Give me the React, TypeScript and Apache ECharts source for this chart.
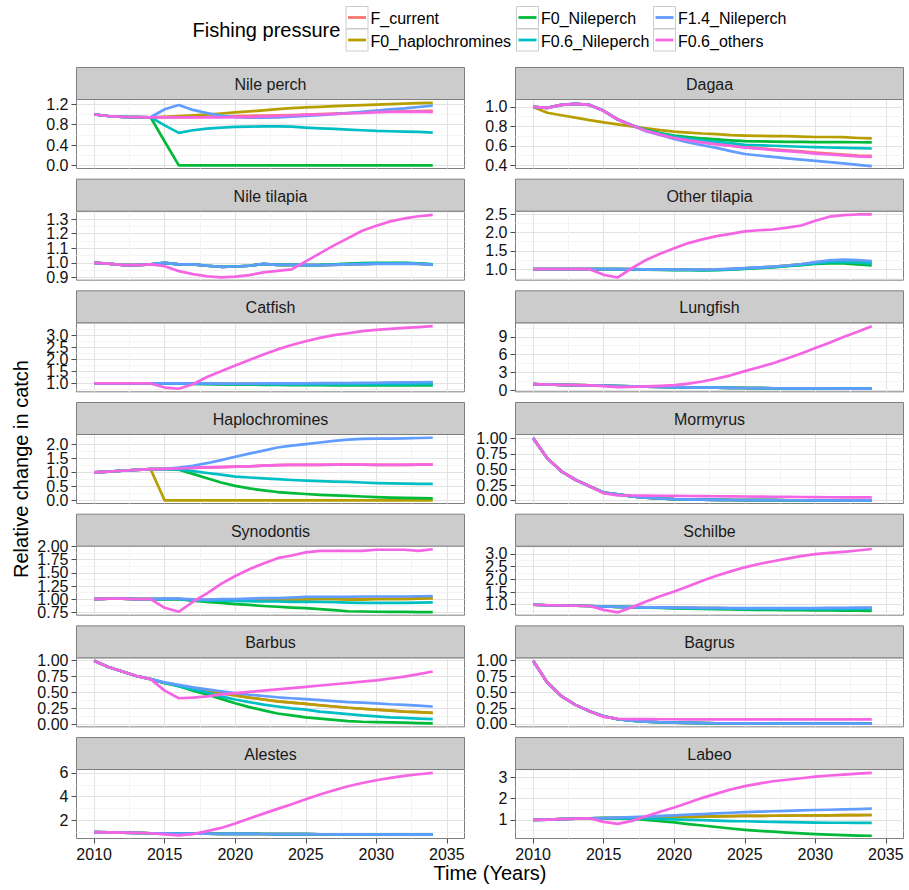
import React, { useEffect, useRef } from 'react';
import * as echarts from 'echarts';

const FONT = '"Liberation Sans", Arial, Helvetica, sans-serif';

// ---- shared axes ----
const years = [2010, 2011, 2012, 2013, 2014, 2015, 2016, 2017, 2018, 2019, 2020, 2021, 2022, 2023, 2024, 2025, 2026, 2027, 2028, 2029, 2030, 2031, 2032, 2033, 2034];
const xTicks = [2010, 2015, 2020, 2025, 2030, 2035];
const xLimits = [2008.75, 2036.25];

const scenarioNames = ['F_current', 'F0_haplochromines', 'F0_Nileperch', 'F0.6_Nileperch', 'F1.4_Nileperch', 'F0.6_others'];
const scenarioColors = ['#F8766D', '#B79F00', '#00BA38', '#00BFC4', '#619CFF', '#F564E3'];

// ---- Nile perch ----
const nilePerchCurrent = [1.0, 0.97, 0.955, 0.95, 0.945, 0.95, 0.95, 0.955, 0.96, 0.965, 0.97, 0.975, 0.98, 0.985, 0.99, 1.0, 1.01, 1.02, 1.03, 1.04, 1.05, 1.055, 1.06, 1.065, 1.07];
const nilePerchF0Hap = [1.0, 0.97, 0.955, 0.95, 0.945, 0.955, 0.97, 0.985, 1.0, 1.02, 1.04, 1.06, 1.08, 1.105, 1.125, 1.14, 1.15, 1.165, 1.175, 1.185, 1.195, 1.205, 1.215, 1.225, 1.23];
const nilePerchF0Nile = [1.0, 0.97, 0.955, 0.95, 0.945, 0.47, 0, 0, 0, 0, 0, 0, 0, 0, 0, 0, 0, 0, 0, 0, 0, 0, 0, 0, 0];
const nilePerchF06Nile = [1.0, 0.97, 0.955, 0.95, 0.945, 0.787, 0.639, 0.69, 0.723, 0.742, 0.755, 0.761, 0.768, 0.768, 0.761, 0.742, 0.729, 0.716, 0.703, 0.69, 0.677, 0.671, 0.665, 0.658, 0.645];
const nilePerchF14Nile = [1.0, 0.97, 0.955, 0.95, 0.945, 1.103, 1.187, 1.09, 1.026, 0.98, 0.948, 0.94, 0.94, 0.945, 0.96, 0.974, 0.987, 1.006, 1.026, 1.05, 1.077, 1.103, 1.12, 1.148, 1.174];
const nilePerchF06Others = [1.0, 0.97, 0.955, 0.95, 0.945, 0.945, 0.945, 0.945, 0.945, 0.945, 0.948, 0.95, 0.96, 0.97, 0.98, 0.994, 1.0, 1.01, 1.02, 1.03, 1.045, 1.05, 1.05, 1.055, 1.045];

// ---- Dagaa ----
const dagaaCurrent = [1.0, 0.99, 1.02, 1.03, 1.02, 0.96, 0.87, 0.81, 0.755, 0.715, 0.68, 0.655, 0.635, 0.617, 0.602, 0.588, 0.575, 0.562, 0.552, 0.542, 0.53, 0.52, 0.51, 0.5, 0.495];
const dagaaF0Hap = [1.0, 0.94, 0.914, 0.89, 0.863, 0.84, 0.82, 0.8, 0.78, 0.76, 0.746, 0.736, 0.726, 0.72, 0.71, 0.705, 0.702, 0.7, 0.699, 0.695, 0.69, 0.69, 0.688, 0.68, 0.675];
const dagaaF0Nile = [1.0, 0.99, 1.02, 1.03, 1.02, 0.96, 0.87, 0.81, 0.765, 0.73, 0.705, 0.69, 0.675, 0.665, 0.655, 0.648, 0.645, 0.642, 0.64, 0.64, 0.638, 0.638, 0.637, 0.636, 0.635];
const dagaaF06Nile = [1.0, 0.99, 1.02, 1.03, 1.02, 0.96, 0.87, 0.81, 0.76, 0.725, 0.695, 0.675, 0.655, 0.64, 0.628, 0.61, 0.605, 0.6, 0.595, 0.59, 0.586, 0.582, 0.578, 0.575, 0.572];
const dagaaF14Nile = [1.0, 0.99, 1.02, 1.03, 1.02, 0.96, 0.87, 0.81, 0.75, 0.71, 0.67, 0.635, 0.605, 0.578, 0.545, 0.515, 0.5, 0.485, 0.47, 0.458, 0.445, 0.432, 0.418, 0.404, 0.39];
const dagaaF06Others = [1.0, 0.99, 1.02, 1.03, 1.02, 0.96, 0.87, 0.81, 0.755, 0.715, 0.68, 0.655, 0.635, 0.615, 0.6, 0.58, 0.57, 0.555, 0.545, 0.535, 0.52, 0.51, 0.5, 0.49, 0.485];

// ---- Nile tilapia ----
const nileTilapiaCurrent = [1.0, 0.995, 0.985, 0.985, 0.99, 1.0, 0.99, 0.99, 0.98, 0.973, 0.975, 0.98, 0.992, 0.986, 0.986, 0.984, 0.985, 0.987, 0.99, 0.992, 0.995, 0.995, 0.997, 0.994, 0.988];
const nileTilapiaF0Hap = [1.0, 0.995, 0.985, 0.985, 0.99, 1.0, 0.99, 0.99, 0.98, 0.973, 0.975, 0.98, 0.992, 0.986, 0.985, 0.984, 0.984, 0.986, 0.99, 0.991, 0.994, 0.994, 0.996, 0.993, 0.987];
const nileTilapiaF0Nile = [1.0, 0.995, 0.985, 0.985, 0.99, 1.0, 0.99, 0.99, 0.98, 0.973, 0.975, 0.98, 0.993, 0.986, 0.986, 0.985, 0.986, 0.99, 0.995, 0.998, 1.0, 1.0, 1.0, 0.996, 0.99];
const nileTilapiaF06Nile = [1.0, 0.995, 0.985, 0.985, 0.99, 1.0, 0.99, 0.99, 0.98, 0.973, 0.975, 0.98, 0.992, 0.986, 0.986, 0.985, 0.985, 0.988, 0.992, 0.995, 0.997, 0.997, 0.998, 0.995, 0.989];
const nileTilapiaF14Nile = [1.0, 0.995, 0.985, 0.985, 0.99, 1.0, 0.99, 0.99, 0.98, 0.973, 0.975, 0.98, 0.993, 0.986, 0.986, 0.984, 0.984, 0.986, 0.989, 0.99, 0.993, 0.993, 0.995, 0.993, 0.986];
const nileTilapiaF06Others = [1.0, 0.995, 0.985, 0.985, 0.99, 0.977, 0.943, 0.923, 0.908, 0.9, 0.905, 0.916, 0.935, 0.945, 0.955, 1.01, 1.065, 1.12, 1.17, 1.22, 1.255, 1.285, 1.305, 1.32, 1.33];

// ---- Other tilapia ----
const otherTilapiaCurrent = [1, 1, 1, 1, 1, 1.0, 1.0, 1.0, 0.99, 0.988, 0.985, 0.984, 0.984, 0.99, 1.004, 1.024, 1.044, 1.064, 1.094, 1.128, 1.17, 1.215, 1.235, 1.215, 1.185];
const otherTilapiaF0Hap = [1, 1, 1, 1, 1, 1.0, 1.0, 1.0, 0.99, 0.988, 0.985, 0.985, 0.985, 0.99, 1.005, 1.025, 1.045, 1.065, 1.095, 1.13, 1.175, 1.22, 1.24, 1.22, 1.19];
const otherTilapiaF0Nile = [1, 1, 1, 1, 1, 1.0, 1.0, 0.99, 0.985, 0.98, 0.975, 0.97, 0.965, 0.97, 0.985, 1.005, 1.03, 1.05, 1.08, 1.11, 1.14, 1.16, 1.16, 1.13, 1.1];
const otherTilapiaF06Nile = [1, 1, 1, 1, 1, 1.0, 1.0, 0.995, 0.99, 0.985, 0.98, 0.978, 0.975, 0.98, 0.995, 1.015, 1.04, 1.06, 1.09, 1.12, 1.16, 1.19, 1.2, 1.18, 1.15];
const otherTilapiaF14Nile = [1, 1, 1, 1, 1, 1.0, 1.0, 1.0, 0.995, 0.99, 0.99, 0.99, 0.99, 0.995, 1.01, 1.03, 1.05, 1.07, 1.1, 1.14, 1.19, 1.24, 1.26, 1.25, 1.22];
const otherTilapiaF06Others = [1, 1, 1, 1, 1, 0.846, 0.774, 1.027, 1.25, 1.42, 1.57, 1.71, 1.81, 1.9, 1.96, 2.03, 2.06, 2.08, 2.13, 2.19, 2.32, 2.43, 2.47, 2.49, 2.49];

// ---- Catfish ----
const catfishCurrent = [1, 1, 1, 1, 1, 1.0, 1.0, 0.995, 0.99, 0.985, 0.985, 0.985, 0.985, 0.985, 0.985, 0.99, 0.99, 0.995, 1.0, 1.0, 1.005, 1.01, 1.015, 1.02, 1.025];
const catfishF0Hap = [1, 1, 1, 1, 1, 1.0, 1.0, 0.995, 0.99, 0.985, 0.985, 0.985, 0.985, 0.985, 0.985, 0.99, 0.99, 0.995, 1.0, 1.0, 1.005, 1.01, 1.015, 1.02, 1.025];
const catfishF0Nile = [1, 1, 1, 1, 1, 1.0, 0.99, 0.98, 0.97, 0.96, 0.955, 0.95, 0.945, 0.94, 0.935, 0.93, 0.925, 0.92, 0.92, 0.915, 0.915, 0.915, 0.915, 0.915, 0.915];
const catfishF06Nile = [1, 1, 1, 1, 1, 1.0, 0.995, 0.99, 0.985, 0.98, 0.975, 0.97, 0.968, 0.965, 0.963, 0.96, 0.958, 0.957, 0.957, 0.958, 0.96, 0.962, 0.965, 0.968, 0.97];
const catfishF14Nile = [1, 1, 1, 1, 1, 1.0, 1.0, 1.0, 1.0, 0.995, 0.995, 0.995, 1.0, 1.0, 1.0, 1.005, 1.01, 1.015, 1.02, 1.025, 1.03, 1.04, 1.045, 1.05, 1.06];
const catfishF06Others = [1, 1, 1, 1, 1, 0.83, 0.78, 0.97, 1.27, 1.51, 1.74, 1.97, 2.2, 2.41, 2.59, 2.75, 2.89, 3.0, 3.08, 3.17, 3.22, 3.26, 3.3, 3.33, 3.37];

// ---- Lungfish ----
const lungfishCurrent = [1.0, 0.95, 0.9, 0.85, 0.8, 0.75, 0.7, 0.65, 0.6, 0.55, 0.5, 0.47, 0.44, 0.41, 0.38, 0.36, 0.34, 0.32, 0.3, 0.29, 0.28, 0.27, 0.26, 0.25, 0.24];
const lungfishF06Others = [1.0, 0.95, 0.9, 0.85, 0.8, 0.68, 0.5, 0.56, 0.62, 0.73, 0.85, 1.1, 1.45, 1.95, 2.5, 3.2, 3.85, 4.55, 5.35, 6.2, 7.1, 8.0, 8.95, 9.85, 10.8];

// ---- Haplochromines ----
const haploF0Hap = [1.0, 1.03, 1.06, 1.09, 1.12, 0, 0, 0, 0, 0, 0, 0, 0, 0, 0, 0, 0, 0, 0, 0, 0, 0, 0, 0, 0];
const haploF0Nile = [1.0, 1.03, 1.06, 1.09, 1.12, 1.12, 1.1, 0.95, 0.79, 0.64, 0.52, 0.43, 0.36, 0.3, 0.26, 0.23, 0.2, 0.18, 0.16, 0.14, 0.12, 0.1, 0.09, 0.08, 0.07];
const haploF06Nile = [1.0, 1.03, 1.06, 1.09, 1.12, 1.12, 1.11, 1.05, 0.98, 0.92, 0.85, 0.82, 0.79, 0.76, 0.73, 0.71, 0.69, 0.67, 0.66, 0.64, 0.62, 0.61, 0.6, 0.595, 0.59];
const haploF14Nile = [1.0, 1.03, 1.06, 1.09, 1.12, 1.12, 1.17, 1.24, 1.33, 1.44, 1.56, 1.67, 1.78, 1.89, 1.96, 2.01, 2.07, 2.13, 2.17, 2.2, 2.21, 2.21, 2.22, 2.23, 2.24];
const haploF06Others = [1.0, 1.03, 1.06, 1.09, 1.12, 1.13, 1.14, 1.16, 1.18, 1.19, 1.21, 1.22, 1.24, 1.26, 1.27, 1.27, 1.27, 1.28, 1.28, 1.28, 1.27, 1.27, 1.27, 1.28, 1.28];

// ---- Mormyrus ----
const mormyrusCurrent = [1.0, 0.68, 0.47, 0.335, 0.23, 0.13, 0.1, 0.07, 0.05, 0.035, 0.025, 0.02, 0.016, 0.013, 0.011, 0.01, 0.009, 0.008, 0.007, 0.007, 0.006, 0.006, 0.005, 0.005, 0.005];
const mormyrusF06Others = [1.0, 0.68, 0.47, 0.335, 0.23, 0.12, 0.085, 0.083, 0.081, 0.079, 0.077, 0.075, 0.073, 0.071, 0.069, 0.067, 0.065, 0.063, 0.061, 0.059, 0.057, 0.055, 0.054, 0.053, 0.052];

// ---- Synodontis ----
const synodontisCurrent = [1.0, 1.01, 1.01, 1.0, 1.0, 1.0, 1.0, 0.985, 0.985, 0.99, 0.99, 0.99, 0.995, 1.0, 1.0, 1.005, 1.01, 1.01, 1.005, 1.005, 1.01, 1.01, 1.01, 1.015, 1.02];
const synodontisF0Hap = [1.0, 1.01, 1.01, 1.0, 1.0, 1.0, 1.0, 0.98, 0.98, 0.98, 0.98, 0.98, 0.98, 0.985, 0.99, 0.99, 1.0, 1.0, 0.99, 0.99, 1.0, 1.0, 1.0, 1.01, 1.02];
const synodontisF0Nile = [1.0, 1.01, 1.01, 1.0, 1.0, 1.0, 1.0, 0.97, 0.95, 0.93, 0.905, 0.89, 0.87, 0.855, 0.84, 0.83, 0.81, 0.79, 0.77, 0.765, 0.76, 0.757, 0.756, 0.755, 0.755];
const synodontisF06Nile = [1.0, 1.01, 1.01, 1.0, 1.0, 1.0, 1.0, 0.98, 0.97, 0.97, 0.96, 0.96, 0.955, 0.955, 0.95, 0.95, 0.95, 0.945, 0.935, 0.93, 0.93, 0.93, 0.93, 0.935, 0.94];
const synodontisF14Nile = [1.0, 1.01, 1.01, 1.0, 1.0, 1.01, 1.01, 0.995, 0.99, 1.0, 1.0, 1.01, 1.02, 1.02, 1.03, 1.045, 1.045, 1.045, 1.045, 1.05, 1.05, 1.05, 1.05, 1.055, 1.06];
const synodontisF06Others = [1.0, 1.01, 1.01, 1.0, 1.0, 0.835, 0.76, 0.95, 1.11, 1.29, 1.44, 1.57, 1.68, 1.78, 1.83, 1.89, 1.92, 1.92, 1.92, 1.92, 1.94, 1.94, 1.94, 1.92, 1.95];

// ---- Schilbe ----
const schilbeCurrent = [1.0, 0.98, 0.97, 0.96, 0.95, 0.93, 0.92, 0.908, 0.897, 0.89, 0.883, 0.876, 0.87, 0.865, 0.86, 0.856, 0.852, 0.85, 0.85, 0.85, 0.852, 0.855, 0.858, 0.862, 0.865];
const schilbeF0Nile = [1.0, 0.98, 0.97, 0.96, 0.95, 0.93, 0.92, 0.905, 0.89, 0.875, 0.86, 0.85, 0.84, 0.83, 0.82, 0.81, 0.8, 0.795, 0.79, 0.785, 0.78, 0.775, 0.77, 0.765, 0.76];
const schilbeF06Nile = [1.0, 0.98, 0.97, 0.96, 0.95, 0.93, 0.92, 0.907, 0.895, 0.885, 0.875, 0.868, 0.86, 0.852, 0.845, 0.84, 0.835, 0.832, 0.83, 0.83, 0.83, 0.83, 0.83, 0.832, 0.835];
const schilbeF14Nile = [1.0, 0.98, 0.97, 0.96, 0.95, 0.93, 0.92, 0.91, 0.9, 0.895, 0.89, 0.885, 0.88, 0.875, 0.87, 0.87, 0.865, 0.865, 0.87, 0.87, 0.87, 0.875, 0.88, 0.885, 0.89];
const schilbeF06Others = [1.0, 0.98, 0.97, 0.96, 0.95, 0.8, 0.7, 0.9, 1.13, 1.33, 1.52, 1.73, 1.94, 2.14, 2.31, 2.47, 2.6, 2.71, 2.81, 2.91, 2.99, 3.04, 3.08, 3.13, 3.19];

// ---- Barbus ----
const barbusF0Hap = [1.0, 0.9, 0.83, 0.76, 0.71, 0.65, 0.61, 0.57, 0.53, 0.49, 0.455, 0.42, 0.39, 0.36, 0.34, 0.32, 0.3, 0.28, 0.26, 0.245, 0.23, 0.215, 0.2, 0.19, 0.18];
const barbusF0Nile = [1.0, 0.9, 0.83, 0.76, 0.71, 0.65, 0.6, 0.53, 0.47, 0.4, 0.33, 0.27, 0.22, 0.17, 0.14, 0.11, 0.09, 0.07, 0.05, 0.04, 0.035, 0.03, 0.025, 0.02, 0.015];
const barbusF06Nile = [1.0, 0.9, 0.83, 0.76, 0.71, 0.65, 0.6, 0.55, 0.5, 0.44, 0.39, 0.35, 0.31, 0.28, 0.25, 0.23, 0.2, 0.18, 0.16, 0.14, 0.125, 0.11, 0.1, 0.09, 0.08];
const barbusF14Nile = [1.0, 0.9, 0.83, 0.76, 0.71, 0.66, 0.62, 0.58, 0.55, 0.52, 0.49, 0.465, 0.445, 0.425, 0.41, 0.395, 0.38, 0.365, 0.35, 0.34, 0.33, 0.315, 0.305, 0.295, 0.28];
const barbusF06Others = [1.0, 0.9, 0.83, 0.76, 0.71, 0.53, 0.41, 0.42, 0.44, 0.47, 0.49, 0.51, 0.53, 0.55, 0.57, 0.59, 0.61, 0.63, 0.65, 0.67, 0.69, 0.72, 0.75, 0.79, 0.83];

// ---- Bagrus ----
const bagrusCurrent = [1.0, 0.654, 0.44, 0.3, 0.2, 0.12, 0.075, 0.05, 0.035, 0.025, 0.018, 0.014, 0.011, 0.009, 0.008, 0.007, 0.006, 0.005, 0.005, 0.004, 0.004, 0.004, 0.003, 0.003, 0.003];
const bagrusF06Others = [1.0, 0.654, 0.44, 0.3, 0.2, 0.11, 0.08, 0.075, 0.073, 0.072, 0.072, 0.071, 0.071, 0.071, 0.07, 0.07, 0.07, 0.07, 0.07, 0.07, 0.07, 0.07, 0.07, 0.07, 0.07];

// ---- Alestes ----
const alestesCurrent = [1.0, 0.97, 0.95, 0.93, 0.9, 0.88, 0.87, 0.86, 0.855, 0.85, 0.845, 0.84, 0.835, 0.83, 0.825, 0.82, 0.815, 0.81, 0.805, 0.8, 0.795, 0.79, 0.785, 0.78, 0.775];
const alestesF06Others = [1.0, 0.97, 0.95, 0.93, 0.9, 0.8, 0.72, 0.83, 1.08, 1.35, 1.72, 2.14, 2.56, 2.96, 3.35, 3.77, 4.17, 4.54, 4.87, 5.15, 5.38, 5.58, 5.75, 5.89, 6.0];

// ---- Labeo ----
const labeoF0Hap = [1.0, 1.01, 1.03, 1.05, 1.07, 1.08, 1.09, 1.1, 1.11, 1.12, 1.13, 1.14, 1.15, 1.16, 1.17, 1.18, 1.185, 1.19, 1.195, 1.2, 1.205, 1.21, 1.215, 1.22, 1.225];
const labeoF0Nile = [1.0, 1.01, 1.03, 1.05, 1.07, 1.08, 1.07, 1.05, 1.0, 0.94, 0.88, 0.8, 0.73, 0.66, 0.59, 0.53, 0.48, 0.44, 0.4, 0.36, 0.33, 0.3, 0.28, 0.26, 0.25];
const labeoF06Nile = [1.0, 1.01, 1.03, 1.05, 1.07, 1.08, 1.08, 1.07, 1.06, 1.04, 1.02, 1.0, 0.98, 0.96, 0.94, 0.93, 0.91, 0.9, 0.89, 0.88, 0.87, 0.86, 0.86, 0.85, 0.85];
const labeoF14Nile = [1.0, 1.01, 1.03, 1.05, 1.07, 1.08, 1.1, 1.12, 1.15, 1.18, 1.21, 1.24, 1.27, 1.3, 1.33, 1.36, 1.38, 1.4, 1.42, 1.44, 1.46, 1.47, 1.49, 1.5, 1.52];
const labeoF06Others = [1.0, 1.01, 1.03, 1.05, 1.07, 0.9, 0.81, 0.95, 1.17, 1.38, 1.58, 1.8, 2.03, 2.23, 2.42, 2.58, 2.7, 2.81, 2.88, 2.95, 3.03, 3.08, 3.12, 3.17, 3.2];

// ---- y axis breaks and limits per species ----
const ticksNilePerch = [0, 0.4, 0.8, 1.2];
const ticksDagaa = [0.4, 0.6, 0.8, 1.0];
const ticksNileTilapia = [0.9, 1.0, 1.1, 1.2, 1.3];
const ticksOtherTilapia = [1.0, 1.5, 2.0, 2.5];
const ticksCatfish = [1.0, 1.5, 2.0, 2.5, 3.0];
const ticksLungfish = [0, 3, 6, 9];
const ticksHaplo = [0, 0.5, 1.0, 1.5, 2.0];
const ticksQuarter = [0, 0.25, 0.5, 0.75, 1.0];
const ticksSynodontis = [0.75, 1.0, 1.25, 1.5, 1.75, 2.0];
const ticksSchilbe = [1.0, 1.5, 2.0, 2.5, 3.0];
const ticksAlestes = [2, 4, 6];
const ticksLabeo = [1, 2, 3];

const limitsNilePerch = [-0.062, 1.295];
const limitsDagaa = [0.366, 1.076];
const limitsNileTilapia = [0.881, 1.355];
const limitsOtherTilapia = [0.7, 2.58];
const limitsCatfish = [0.653, 3.51];
const limitsLungfish = [-0.29, 11.36];
const limitsHaplo = [-0.11, 2.355];
const limitsMormyrus = [-0.045, 1.058];
const limitsSynodontis = [0.695, 2.008];
const limitsSchilbe = [0.59, 3.3];
const limitsBarbus = [-0.04, 1.045];
const limitsBagrus = [-0.048, 1.045];
const limitsAlestes = [0.453, 6.29];
const limitsLabeo = [0.12, 3.36];

type Facet = { name: string; lines: number[][]; ticks: number[]; limits: number[]; digits: number };

// facet_wrap order, filled row by row in two columns
const facets: Facet[] = [
  { name: 'Nile perch', lines: [nilePerchCurrent, nilePerchF0Hap, nilePerchF0Nile, nilePerchF06Nile, nilePerchF14Nile, nilePerchF06Others], ticks: ticksNilePerch, limits: limitsNilePerch, digits: 1 },
  { name: 'Dagaa', lines: [dagaaCurrent, dagaaF0Hap, dagaaF0Nile, dagaaF06Nile, dagaaF14Nile, dagaaF06Others], ticks: ticksDagaa, limits: limitsDagaa, digits: 1 },
  { name: 'Nile tilapia', lines: [nileTilapiaCurrent, nileTilapiaF0Hap, nileTilapiaF0Nile, nileTilapiaF06Nile, nileTilapiaF14Nile, nileTilapiaF06Others], ticks: ticksNileTilapia, limits: limitsNileTilapia, digits: 1 },
  { name: 'Other tilapia', lines: [otherTilapiaCurrent, otherTilapiaF0Hap, otherTilapiaF0Nile, otherTilapiaF06Nile, otherTilapiaF14Nile, otherTilapiaF06Others], ticks: ticksOtherTilapia, limits: limitsOtherTilapia, digits: 1 },
  { name: 'Catfish', lines: [catfishCurrent, catfishF0Hap, catfishF0Nile, catfishF06Nile, catfishF14Nile, catfishF06Others], ticks: ticksCatfish, limits: limitsCatfish, digits: 1 },
  { name: 'Lungfish', lines: [lungfishCurrent, lungfishCurrent, lungfishCurrent, lungfishCurrent, lungfishCurrent, lungfishF06Others], ticks: ticksLungfish, limits: limitsLungfish, digits: 0 },
  { name: 'Haplochromines', lines: [haploF06Others, haploF0Hap, haploF0Nile, haploF06Nile, haploF14Nile, haploF06Others], ticks: ticksHaplo, limits: limitsHaplo, digits: 1 },
  { name: 'Mormyrus', lines: [mormyrusCurrent, mormyrusCurrent, mormyrusCurrent, mormyrusCurrent, mormyrusCurrent, mormyrusF06Others], ticks: ticksQuarter, limits: limitsMormyrus, digits: 2 },
  { name: 'Synodontis', lines: [synodontisCurrent, synodontisF0Hap, synodontisF0Nile, synodontisF06Nile, synodontisF14Nile, synodontisF06Others], ticks: ticksSynodontis, limits: limitsSynodontis, digits: 2 },
  { name: 'Schilbe', lines: [schilbeCurrent, schilbeCurrent, schilbeF0Nile, schilbeF06Nile, schilbeF14Nile, schilbeF06Others], ticks: ticksSchilbe, limits: limitsSchilbe, digits: 1 },
  { name: 'Barbus', lines: [barbusF0Hap, barbusF0Hap, barbusF0Nile, barbusF06Nile, barbusF14Nile, barbusF06Others], ticks: ticksQuarter, limits: limitsBarbus, digits: 2 },
  { name: 'Bagrus', lines: [bagrusCurrent, bagrusCurrent, bagrusCurrent, bagrusCurrent, bagrusCurrent, bagrusF06Others], ticks: ticksQuarter, limits: limitsBagrus, digits: 2 },
  { name: 'Alestes', lines: [alestesCurrent, alestesCurrent, alestesCurrent, alestesCurrent, alestesCurrent, alestesF06Others], ticks: ticksAlestes, limits: limitsAlestes, digits: 0 },
  { name: 'Labeo', lines: [labeoF0Hap, labeoF0Hap, labeoF0Nile, labeoF06Nile, labeoF14Nile, labeoF06Others], ticks: ticksLabeo, limits: limitsLabeo, digits: 0 },
];

// ---- layout ----
const PANEL_LEFT = [76.5, 515.5];
const PANEL_W = 388;
const STRIP_TOP0 = 67.5;
const ROW_STEP = 111.67;
const STRIP_H = 32;
const PANEL_H = 69;
const N_ROWS = 7;

const MAJOR_GRID = '#E3E3E3';
const MINOR_GRID = '#F4F4F4';
const BORDER = '#7F7F7F';
const TICK_TEXT = '#111111';

// minor gridlines halfway between breaks, kept inside the panel range
function minorBreaks(ticks: number[], limits: number[]): number[] {
  const step = ticks[1] - ticks[0];
  const out: number[] = [];
  for (let k = -1; k < ticks.length; k++) {
    const v = ticks[0] + step * (k + 0.5);
    if (v > limits[0] && v < limits[1]) out.push(Number(v.toFixed(6)));
  }
  return out;
}

// y labels are split over two stacked axes (alternate breaks) so that
// closely spaced breaks all keep their label
function yLabelAxis(i: number, f: Facet, values: number[]) {
  return {
    gridIndex: i, type: 'value', min: f.limits[0], max: f.limits[1], position: 'left', offset: 0,
    axisLine: { show: false },
    axisTick: { show: false, customValues: values },
    axisLabel: {
      show: true, customValues: values, margin: 8, fontSize: 16, color: TICK_TEXT, fontFamily: FONT,
      showMinLabel: true, showMaxLabel: true, hideOverlap: false,
      formatter: (v: number) => Number(v).toFixed(f.digits),
    },
    splitLine: { show: false },
  };
}

function buildOption() {
  const grid: any[] = [];
  const xAxis: any[] = [];
  const yAxis: any[] = [];
  const series: any[] = [];
  const graphic: any[] = [];
  const xMinor = minorBreaks(xTicks, xLimits);

  facets.forEach((f, i) => {
    const row = Math.floor(i / 2);
    const col = i % 2;
    const left = PANEL_LEFT[col];
    const stripTop = STRIP_TOP0 + row * ROW_STEP;
    const top = stripTop + STRIP_H;
    const bottomRow = row === N_ROWS - 1;

    grid.push({
      left, top, width: PANEL_W, height: PANEL_H,
      show: true, backgroundColor: '#FFFFFF', borderColor: BORDER, borderWidth: 1,
      containLabel: false, outerBoundsMode: 'none',
    });

    xAxis.push({
      gridIndex: i, type: 'value', min: xLimits[0], max: xLimits[1], position: 'bottom',
      axisLine: { show: false },
      axisTick: { show: bottomRow, customValues: xTicks, length: 5, lineStyle: { color: '#4D4D4D', width: 1 } },
      axisLabel: {
        show: bottomRow, customValues: xTicks, margin: 8, fontSize: 16, color: TICK_TEXT, fontFamily: FONT,
        showMinLabel: true, showMaxLabel: true, hideOverlap: false,
        formatter: (v: number) => String(Math.round(v)),
      },
      splitLine: { show: true, lineStyle: { color: MAJOR_GRID, width: 1 } },
    });
    xAxis.push({
      gridIndex: i, type: 'value', min: xLimits[0], max: xLimits[1], position: 'top',
      axisLine: { show: false },
      axisTick: { show: false, customValues: xMinor },
      axisLabel: { show: false },
      splitLine: { show: true, lineStyle: { color: MINOR_GRID, width: 1 } },
    });

    const evenTicks = f.ticks.filter((_, k) => k % 2 === 0);
    const oddTicks = f.ticks.filter((_, k) => k % 2 === 1);

    // main y axis: ticks + major gridlines + even labels; series bind here
    const main: any = yLabelAxis(i, f, evenTicks);
    main.axisTick = { show: true, customValues: f.ticks, length: 5, lineStyle: { color: '#4D4D4D', width: 1 } };
    main.splitLine = { show: true, lineStyle: { color: MAJOR_GRID, width: 1 } };
    yAxis.push(main);
    // minor gridlines
    yAxis.push({
      gridIndex: i, type: 'value', min: f.limits[0], max: f.limits[1], position: 'right',
      axisLine: { show: false },
      axisTick: { show: false, customValues: minorBreaks(f.ticks, f.limits) },
      axisLabel: { show: false },
      splitLine: { show: true, lineStyle: { color: MINOR_GRID, width: 1 } },
    });
    // remaining labels
    yAxis.push(yLabelAxis(i, f, oddTicks));

    f.lines.forEach((vals, k) => {
      series.push({
        type: 'line',
        name: scenarioNames[k],
        xAxisIndex: 2 * i,
        yAxisIndex: 3 * i,
        data: years.map((yr, j) => [yr, vals[j]]),
        showSymbol: false,
        symbol: 'none',
        silent: true,
        z: 3 + k * 0.01,
        lineStyle: { width: 2.7, color: scenarioColors[k], cap: 'butt', join: 'round' },
        itemStyle: { color: scenarioColors[k] },
      });
    });

    // facet strip
    graphic.push({
      type: 'rect', z: 50,
      shape: { x: left, y: stripTop, width: PANEL_W, height: STRIP_H },
      style: { fill: '#CCCCCC', stroke: BORDER, lineWidth: 1 },
    });
    graphic.push({
      type: 'text', z: 51, x: left + PANEL_W / 2, y: stripTop + STRIP_H / 2 + 1,
      style: {
        text: f.name, fill: '#1A1A1A', fontSize: 16, fontFamily: FONT,
        align: 'center', verticalAlign: 'middle', textAlign: 'center', textVerticalAlign: 'middle',
      },
    });
  });

  // legend
  const keyCols = [346, 516.5, 653.5];
  const keyRows = [6.5, 29];
  const KEY = 22;
  graphic.push({
    type: 'text', z: 51, x: 192.5, y: 30,
    style: { text: 'Fishing pressure', fill: '#000000', fontSize: 20, fontFamily: FONT, align: 'left', verticalAlign: 'middle', textAlign: 'left', textVerticalAlign: 'middle' },
  });
  scenarioNames.forEach((name, k) => {
    const bx = keyCols[Math.floor(k / 2)];
    const by = keyRows[k % 2];
    graphic.push({
      type: 'rect', z: 50,
      shape: { x: bx, y: by, width: KEY, height: KEY },
      style: { fill: '#FFFFFF', stroke: '#CCCCCC', lineWidth: 1 },
    });
    graphic.push({
      type: 'line', z: 51,
      shape: { x1: bx + 2, y1: by + KEY / 2, x2: bx + KEY - 2, y2: by + KEY / 2 },
      style: { stroke: scenarioColors[k], lineWidth: 2.8 },
    });
    graphic.push({
      type: 'text', z: 51, x: bx + KEY + 2.5, y: by + KEY / 2 + 1,
      style: { text: name, fill: '#000000', fontSize: 16, fontFamily: FONT, align: 'left', verticalAlign: 'middle', textAlign: 'left', textVerticalAlign: 'middle' },
    });
  });

  // axis titles
  graphic.push({
    type: 'text', z: 51, x: 490, y: 873,
    style: { text: 'Time (Years)', fill: '#000000', fontSize: 20, fontFamily: FONT, align: 'center', verticalAlign: 'middle', textAlign: 'center', textVerticalAlign: 'middle' },
  });
  graphic.push({
    type: 'text', z: 51, x: 20.5, y: 469, rotation: Math.PI / 2,
    style: { text: 'Relative change in catch', fill: '#000000', fontSize: 20, fontFamily: FONT, align: 'center', verticalAlign: 'middle', textAlign: 'center', textVerticalAlign: 'middle' },
  });

  return {
    animation: false,
    backgroundColor: '#FFFFFF',
    textStyle: { fontFamily: FONT },
    grid, xAxis, yAxis, series, graphic,
  };
}

export default function App() {
  const ref = useRef<HTMLDivElement>(null);
  useEffect(() => {
    if (!ref.current) return;
    const chart = echarts.init(ref.current, null, { renderer: 'svg' });
    chart.setOption(buildOption() as any);
    return () => chart.dispose();
  }, []);
  return <div ref={ref} style={{ position: 'absolute', left: 0, top: 0, width: 909, height: 890 }} />;
}
